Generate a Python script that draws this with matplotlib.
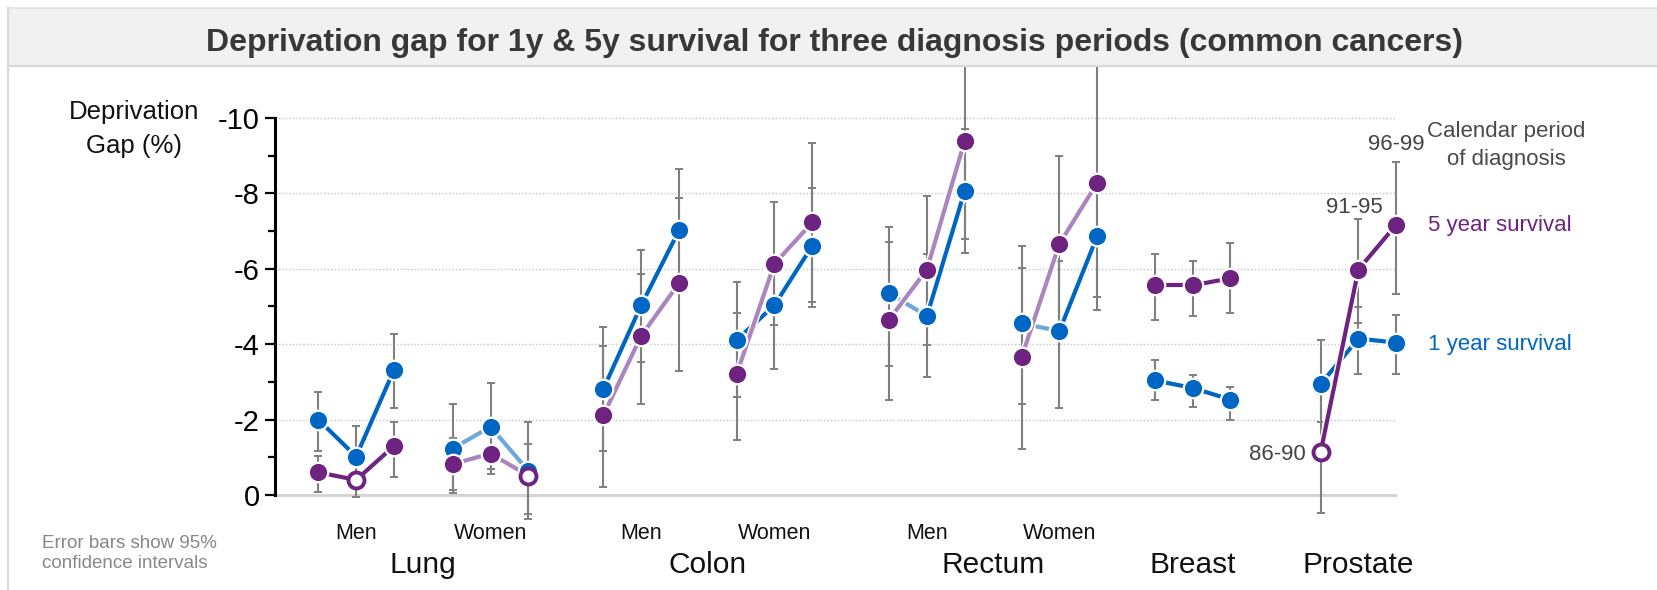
import matplotlib
matplotlib.use('Agg')
import matplotlib.pyplot as plt
import matplotlib.patheffects as pe
from matplotlib.patches import Rectangle
from matplotlib.lines import Line2D
from matplotlib.transforms import blended_transform_factory

plt.rcParams['font.family'] = ['Liberation Sans', 'DejaVu Sans']
plt.rcParams['axes.unicode_minus'] = False

# ---------------- data ----------------
title = "Deprivation gap for 1y & 5y survival for three diagnosis periods (common cancers)"
cancers = ['Lung', 'Colon', 'Rectum', 'Breast', 'Prostate']
sexes = ['Men', 'Women', 'Men', 'Women', 'Men', 'Women', '', '']
periods = ['86-90', '91-95', '96-99']

gap_1y = [
    [-2.00, -1.02, -3.32],   # Lung men
    [-1.23, -1.81, -0.64],   # Lung women
    [-2.81, -5.03, -7.02],   # Colon men
    [-4.11, -5.03, -6.61],   # Colon women
    [-5.35, -4.75, -8.07],   # Rectum men
    [-4.55, -4.35, -6.87],   # Rectum women
    [-3.04, -2.84, -2.53],   # Breast
    [-2.94, -4.15, -4.04],   # Prostate
]
ci_1y = [
    [(-1.27, -2.82), (-0.20, -1.82), (-2.37, -4.32)],
    [(-0.05, -2.42), (-0.66, -2.93), (0.65, -1.92)],
    [(-1.17, -4.44), (-3.57, -6.52), (-5.40, -8.65)],
    [(-2.57, -5.63), (-3.87, -6.73), (-5.08, -8.24)],
    [(-3.60, -7.28), (-3.11, -6.38), (-6.43, -9.71)],
    [(-2.50, -6.68), (-2.50, -6.38), (-5.22, -8.50)],
    [(-2.49, -3.56), (-2.49, -3.35), (-2.19, -3.06)],
    [(-1.78, -3.95), (-3.31, -5.08), (-3.31, -4.87)],
]
gap_5y = [
    [-0.60, -0.40, -1.30],
    [-0.82, -1.10, -0.51],
    [-2.11, -4.22, -5.62],
    [-3.20, -6.13, -7.23],
    [-4.65, -5.98, -9.40],
    [-3.65, -6.66, -8.28],
    [-5.56, -5.56, -5.75],
    [-1.13, -5.98, -7.17],
]
ci_5y = [
    [(-0.16, -1.12), (0.04, -0.85), (-0.66, -2.12)],
    [(-0.12, -1.52), (-0.55, -1.65), (0.34, -1.52)],
    [(-0.27, -4.02), (-2.57, -6.02), (-3.37, -7.94)],
    [(-1.58, -4.93), (-4.48, -7.74), (-5.12, -9.34)],
    [(-2.60, -6.78), (-4.02, -7.99), (-6.84, -12.0)],
    [(-1.28, -6.07), (-4.32, -9.00), (-4.92, -11.64)],
    [(-4.72, -6.47), (-4.92, -6.38), (-4.81, -6.68)],
    [(0.42, -2.75), (-4.63, -7.39), (-5.51, -9.00)],
]
# significance of each change between periods (1 = strong colour, 0 = pale)
strong_1y = [[1, 1], [0, 0], [1, 1], [1, 1], [0, 1], [0, 1], [1, 1], [1, 1]]
strong_5y = [[1, 1], [0, 0], [0, 0], [0, 0], [0, 0], [0, 0], [1, 1], [1, 1]]
# estimate not significant (hollow marker)
hollow_5y = [[0, 1, 0], [0, 0, 1], [0, 0, 0], [0, 0, 0], [0, 0, 0], [0, 0, 0], [0, 0, 0], [1, 0, 0]]

# ---------------- layout ----------------
W, H = 1657, 590
def fx(px):
    return px / W
def fy(py):
    return 1 - py / H

group_start = [0, 3.55, 7.53, 11.05, 15.08, 18.58, 22.1, 26.48]

BLUE = '#0066c3'
BLUE_L = '#6da7dc'
PURP = '#6e2380'
PURP_L = '#aa85be'
GREY_EB = '#7f7f7f'

fig = plt.figure(figsize=(W / 100, H / 100), dpi=100)
fig.patch.set_facecolor('white')

# title band and frame
fig.add_artist(Rectangle((fx(8), fy(66)), 1 - fx(8), fy(8) - fy(66),
                         transform=fig.transFigure, facecolor='#f1f1f1',
                         edgecolor='none', zorder=0))
fig.add_artist(Line2D([fx(8), 1], [fy(66), fy(66)], color='#dadada', lw=1.6))
fig.add_artist(Line2D([fx(8), 1], [fy(8), fy(8)], color='#e2e2e2', lw=1.2))
fig.add_artist(Line2D([fx(8), fx(8)], [0, fy(8)], color='#dadada', lw=1.6))
fig.text(fx(835), fy(51), title, ha='center', va='baseline', fontsize=23,
         weight='bold', color='#383838')

ax = fig.add_axes([fx(275), fy(540), fx(1640) - fx(275), fy(67) - fy(540)])
ax.patch.set_alpha(0)
ax.set_xlim(-1.144, 34.92)
ax.set_ylim(1.194, -11.353)

grid_end = 28.45
for v in range(-10, 0, 2):
    ax.plot([-1.144, grid_end], [v, v], ls=(0, (1, 1.5)), color='#c4c4c4',
            lw=1.0, zorder=1)
ax.plot([-1.144, grid_end], [0, 0], color='#d4d4d4', lw=2.2, zorder=1)

for s in ['top', 'right', 'bottom']:
    ax.spines[s].set_visible(False)
ax.spines['left'].set_bounds(-10, 0)
ax.spines['left'].set_linewidth(2.2)
ax.set_xticks([])
ax.set_yticks(list(range(-10, 1, 2)))
ax.set_yticklabels([str(v) for v in range(-10, 1, 2)])
ax.set_yticks(list(range(-9, 0, 2)), minor=True)
ax.tick_params(axis='y', which='major', length=7, width=1.6, labelsize=21,
               pad=4, colors='black')
ax.tick_params(axis='y', which='minor', length=5, width=1.6)

halo = [pe.Stroke(linewidth=5.2, foreground='white'), pe.Normal()]

for g in range(len(gap_1y)):
    xs = [group_start[g] + i for i in range(len(periods))]
    for vals, cis, strong, dark, light, zl in (
            (gap_1y[g], ci_1y[g], strong_1y[g], BLUE, BLUE_L, 3),
            (gap_5y[g], ci_5y[g], strong_5y[g], PURP, PURP_L, 4)):
        lo = [abs(v - max(c)) for v, c in zip(vals, cis)]
        hi = [abs(min(c) - v) for v, c in zip(vals, cis)]
        ax.errorbar(xs, vals, yerr=[lo, hi], fmt='none', ecolor=GREY_EB,
                    elinewidth=1.5, capsize=3.2, capthick=1.4, zorder=2)
        for s in range(len(vals) - 1):
            ax.plot(xs[s:s + 2], vals[s:s + 2],
                    color=dark if strong[s] else light, lw=3.0,
                    solid_capstyle='butt', zorder=zl, path_effects=halo)
    # markers
    ax.plot(xs, gap_1y[g], ls='none', marker='o', ms=14, mfc=BLUE,
            mec='white', mew=1.6, zorder=6)
    for i, x in enumerate(xs):
        if hollow_5y[g][i]:
            ax.plot([x], [gap_5y[g][i]], ls='none', marker='o', ms=11.5,
                    mfc='white', mec=PURP, mew=2.8, zorder=7)
        else:
            ax.plot([x], [gap_5y[g][i]], ls='none', marker='o', ms=14,
                    mfc=PURP, mec='white', mew=1.6, zorder=7)

# category labels
bt = blended_transform_factory(ax.transData, fig.transFigure)
for g, sx in enumerate(sexes):
    if sx:
        ax.text(group_start[g] + 1, fy(539.3), sx, transform=bt, ha='center',
                va='baseline', fontsize=15.5, color='#111111')
cancer_x = [
    (group_start[0] + group_start[1]) / 2 + 1,
    (group_start[2] + group_start[3]) / 2 + 1,
    (group_start[4] + group_start[5]) / 2 + 1,
    group_start[6] + 1,
    group_start[7] + 1,
]
for name, cx in zip(cancers, cancer_x):
    ax.text(cx, fy(573.3), name, transform=bt, ha='center', va='baseline',
            fontsize=21.5, color='#111111')

# axis title
fig.text(fx(134), fy(119.3), 'Deprivation', ha='center', va='baseline',
         fontsize=18.5, color='#111111')
fig.text(fx(134), fy(152.7), 'Gap (%)', ha='center', va='baseline',
         fontsize=18.5, color='#111111')

# note
fig.text(fx(42), fy(548.3), 'Error bars show 95%', ha='left', va='baseline',
         fontsize=13.5, color='#888888')
fig.text(fx(42), fy(568.3), 'confidence intervals', ha='left', va='baseline',
         fontsize=13.5, color='#888888')

# period annotations on prostate
px = group_start[7]
ax.text(px + 2, fy(150), periods[2], transform=bt, ha='center', va='baseline',
        fontsize=16, color='#444444')
ax.text(px + 1 - 0.1, fy(212.7), periods[1], transform=bt, ha='center',
        va='baseline', fontsize=16, color='#444444')
ax.text(px - 0.4, fy(460), periods[0], transform=bt, ha='right',
        va='baseline', fontsize=16, color='#444444')

fig.text(fx(1506), fy(136.7), 'Calendar period', ha='center', va='baseline',
         fontsize=16, color='#4a4a4a')
fig.text(fx(1506), fy(165), 'of diagnosis', ha='center', va='baseline',
         fontsize=16, color='#4a4a4a')
fig.text(fx(1428), fy(231), '5 year survival', ha='left', va='baseline',
         fontsize=16, color=PURP)
fig.text(fx(1428), fy(350), '1 year survival', ha='left', va='baseline',
         fontsize=16, color=BLUE)

fig.savefig('out.png', dpi=100)
